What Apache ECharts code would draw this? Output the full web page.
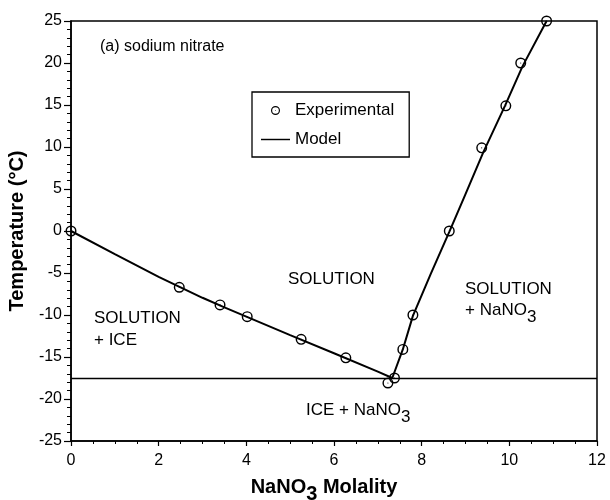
<!DOCTYPE html>
<html>
<head>
<meta charset="utf-8">
<title>Sodium nitrate – ice phase diagram</title>
<script src="https://cdn.jsdelivr.net/npm/echarts@6/dist/echarts.min.js"></script>
<style>
  html, body { margin: 0; padding: 0; background: #fff; }
  #chart { width: 610px; height: 500px; }
</style>
</head>
<body>
<div id="chart"></div>
<script>
// Measured freezing / solubility points (mol/kg, °C)
const expMolality = [0, 2.47, 3.40, 4.02, 5.25, 6.27, 7.23, 7.38, 7.57, 7.80, 8.63, 9.37, 9.92, 10.26, 10.85];
const expTemp     = [0, -6.7, -8.8, -10.2, -12.9, -15.1, -18.1, -17.5, -14.1, -10.0, 0.0, 9.9, 14.9, 20.0, 25.0];

// Model curve: ice branch down to the eutectic, then NaNO3 solubility branch
const modelMolality = [0, 1, 2, 2.5, 3, 3.5, 4, 5, 6, 7, 7.33, 7.57, 7.8, 8.2, 8.63, 9.0, 9.4, 9.9, 10.3, 10.85];
const modelTemp     = [0, -2.75, -5.45, -6.7, -7.95, -9.1, -10.2, -12.4, -14.55, -16.75, -17.5, -14.1, -10.1, -5.2, -0.1, 4.4, 9.3, 14.9, 19.6, 25.0];

// Eutectic temperature (ICE + NaNO3 boundary)
const eutecticTemp = -17.5;

// Axis ranges
const xRange = { min: 0, max: 12, step: 2 };
const yRange = { min: -25, max: 25, step: 5 };

const FONT = 'Liberation Sans, Arial, Helvetica, sans-serif';

// Open ring with a centre dot
const ringSymbol = 'path://M0,10 A10,10 0 1,1 20,10 A10,10 0 1,1 0,10 Z ' +
  'M2.6,10 A7.4,7.4 0 1,0 17.4,10 A7.4,7.4 0 1,0 2.6,10 Z ' +
  'M9,10 A1,1 0 1,1 11,10 A1,1 0 1,1 9,10 Z';

// Plain horizontal stroke for the model's legend key
const lineKey = 'path://M0,0 H40 V2 H0 Z';

const zip = (xs, ys) => xs.map((x, i) => [x, ys[i]]);

const subRich = (size, weight) => ({
  n: { fontSize: size, fontWeight: weight, fontFamily: FONT, color: '#000', verticalAlign: 'top' },
  s: { fontSize: size, fontWeight: weight, fontFamily: FONT, color: '#000', verticalAlign: 'top', padding: [7, 0, 0, 0] }
});

function label(x, y, text, size) {
  return {
    type: 'text', x: x, y: y,
    style: { text: text, fontSize: size || 17, fontFamily: FONT, fill: '#000', verticalAlign: 'middle' }
  };
}
function richLabel(x, y, text) {
  return {
    type: 'text', x: x, y: y,
    style: { text: text, fontSize: 17, fontFamily: FONT, fill: '#000', verticalAlign: 'top', rich: subRich(17, 'normal') }
  };
}

const chart = echarts.init(document.getElementById('chart'), null, { renderer: 'canvas' });

chart.setOption({
  animation: false,
  backgroundColor: '#fff',
  grid: {
    left: 71, right: 13, top: 21, bottom: 59,
    containLabel: false,
    outerBoundsMode: 'none',
    show: true, borderColor: '#000', borderWidth: 1.5, backgroundColor: 'transparent'
  },
  legend: {
    orient: 'vertical',
    left: 252, top: 92,
    padding: [10, 15, 9, 9],
    itemGap: 12,
    itemWidth: 29, itemHeight: 9,
    borderColor: '#000', borderWidth: 1.3,
    textStyle: { fontSize: 17, fontFamily: FONT, color: '#000' },
    data: [
      { name: 'Experimental' },
      { name: 'Model', icon: lineKey }
    ]
  },
  xAxis: {
    type: 'value',
    min: xRange.min, max: xRange.max, interval: xRange.step,
    name: '{n|NaNO}{s|3}{n| Molality}',
    nameLocation: 'middle', nameGap: 36,
    nameTextStyle: { rich: subRich(20, 'bold'), padding: [0, 20, 0, 0] },
    axisLine: { onZero: false, lineStyle: { color: '#000', width: 1.5 } },
    axisTick: { length: 5, lineStyle: { color: '#000', width: 1.2 } },
    minorTick: { show: true, splitNumber: 4, length: 3, lineStyle: { color: '#000', width: 1 } },
    axisLabel: { fontSize: 16, fontFamily: FONT, color: '#000', margin: 12 },
    splitLine: { show: false }
  },
  yAxis: {
    type: 'value',
    min: yRange.min, max: yRange.max, interval: yRange.step,
    name: 'Temperature (°C)',
    nameLocation: 'middle', nameGap: 41,
    nameTextStyle: { fontSize: 20, fontWeight: 'bold', fontFamily: FONT, color: '#000' },
    axisLine: { onZero: false, lineStyle: { color: '#000', width: 1.5 } },
    axisTick: { length: 7, lineStyle: { color: '#000', width: 1.2 } },
    minorTick: { show: true, splitNumber: 5, length: 4, lineStyle: { color: '#000', width: 1 } },
    axisLabel: { fontSize: 16, fontFamily: FONT, color: '#000', margin: 9 },
    splitLine: { show: false }
  },
  series: [
    {
      name: 'Model',
      type: 'line',
      data: zip(modelMolality, modelTemp),
      symbol: 'none',
      lineStyle: { color: '#000', width: 2 },
      itemStyle: { color: '#000' },
      z: 2,
      markLine: {
        silent: true,
        symbol: 'none',
        label: { show: false },
        lineStyle: { color: '#000', width: 1.4, type: 'solid' },
        data: [{ yAxis: eutecticTemp }]
      }
    },
    {
      name: 'Experimental',
      type: 'scatter',
      data: zip(expMolality, expTemp),
      symbol: ringSymbol,
      symbolKeepAspect: true,
      symbolSize: 11,
      itemStyle: { color: '#000', opacity: 1 },
      z: 3
    }
  ],
  graphic: [
    label(100, 47, '(a) sodium nitrate', 16),
    label(288, 279, 'SOLUTION'),
    label(94, 318, 'SOLUTION'),
    label(94, 340, '+ ICE'),
    label(465, 289, 'SOLUTION'),
    richLabel(465, 302, '{n|+ NaNO}{s|3}'),
    richLabel(306, 402, '{n|ICE + NaNO}{s|3}')
  ]
});
</script>
</body>
</html>
